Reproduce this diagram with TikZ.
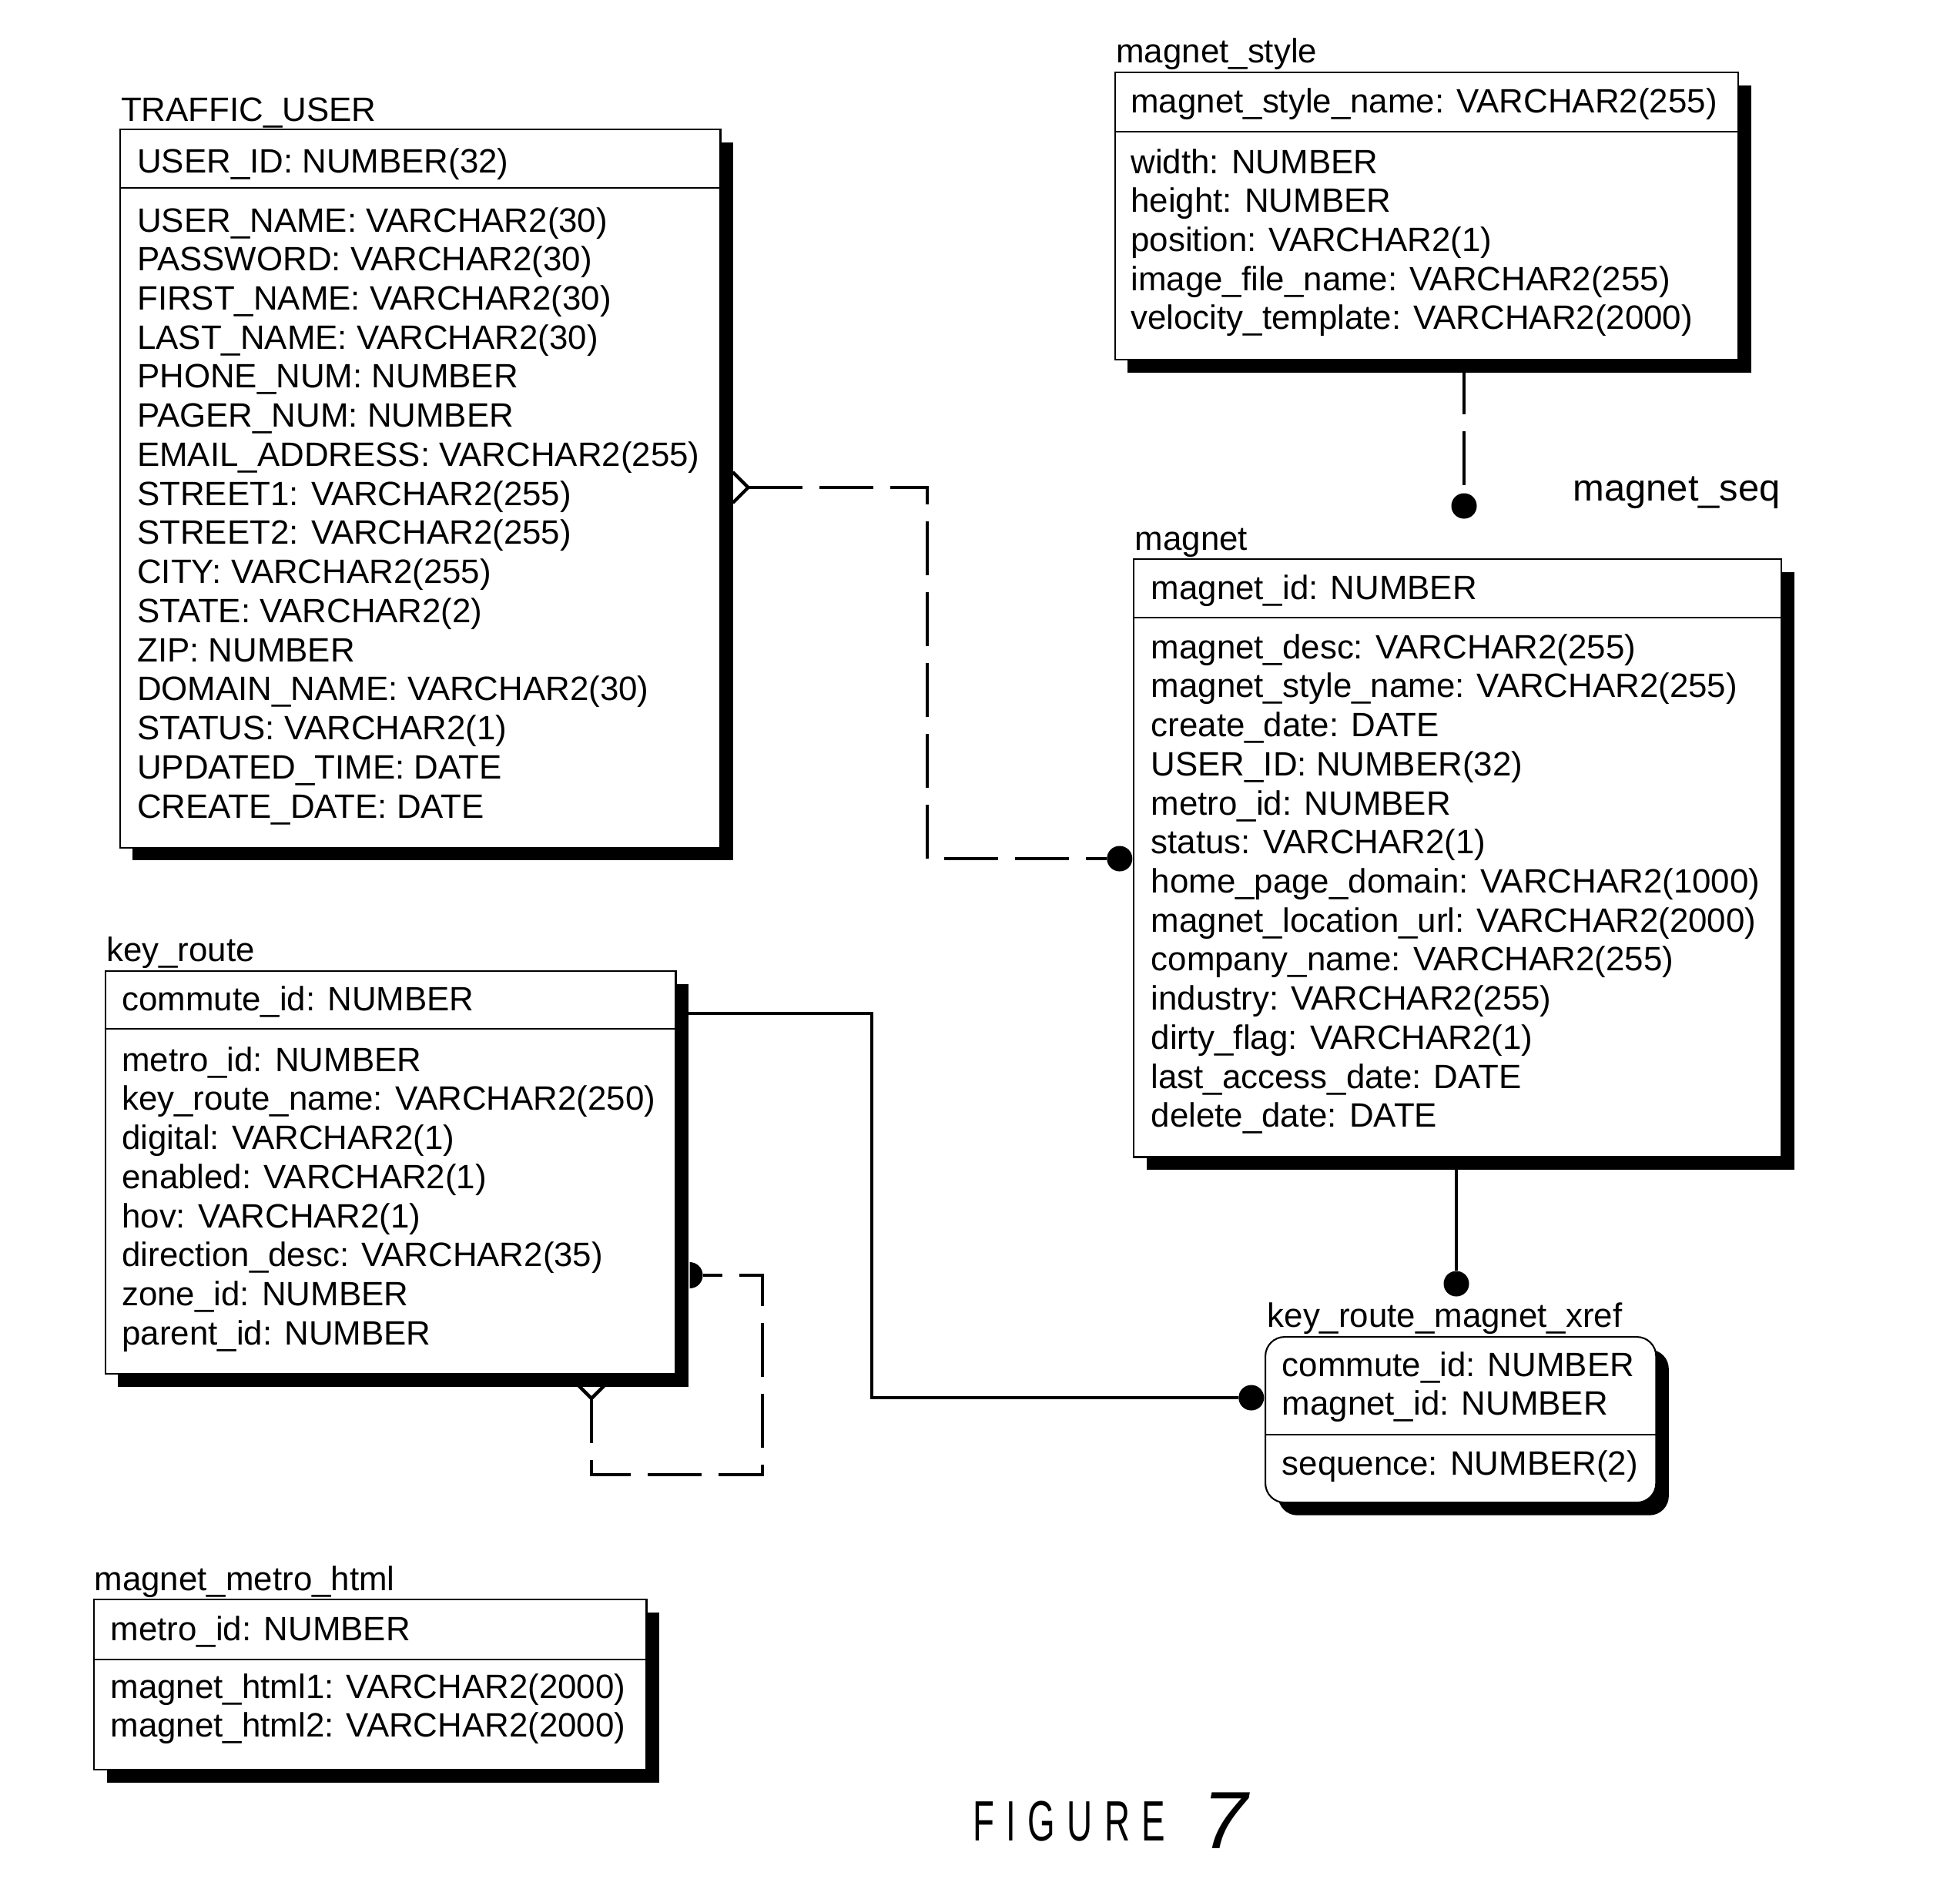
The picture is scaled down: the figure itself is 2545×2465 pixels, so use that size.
\documentclass[tikz,border=0pt]{standalone}
\usepackage{fontspec}
\usepackage{graphicx}
\setmainfont{Liberation Sans}
\usetikzlibrary{positioning,shadows}
\newcommand{\tabfont}{\fontsize{12.47}{14.43}\selectfont}
\newcommand{\rows}[1]{\parbox[t]{9cm}{\raggedright #1}}

\begin{document}
\begin{tikzpicture}[x=0.01cm, y=-0.01cm,
  entity/.style = {draw, fill=white, line width=0.6pt, inner sep=0, anchor=north west,
    drop shadow={shadow xshift=0.165cm, shadow yshift=-0.165cm, fill=black, opacity=1}},
  title/.style = {anchor=base west, inner sep=0, font=\tabfont},
  field/.style = {anchor=base west, inner sep=0, font=\tabfont},
  sep/.style = {line width=0.6pt},
  rel/.style = {line width=1.25pt},
  relD/.style = {rel, dash pattern=on 0.7cm off 0.22cm},
  dot/.style = {circle, fill, inner sep=0, minimum size=0.33cm}]

\useasboundingbox (0,0) rectangle (2545,2465);

% TRAFFIC_USER
\node[entity, minimum width=7.795cm, minimum height=9.32cm] (user) at (154.5,167) {};
\node[title] (userT) at ([shift={(2,-10)}]user.north west) {TRAFFIC\_USER};
\node[field] (userK) at ([shift={(23,57)}]user.north west) {USER\_ID: NUMBER(32)};
\draw[sep] ([yshift=-0.77cm]user.north west) -- ([yshift=-0.77cm]user.north east);
\node[field] (userA) at ([shift={(23,134)}]user.north west) {\rows{USER\_NAME: VARCHAR2(30)\\
  PASSWORD: VARCHAR2(30)\\ FIRST\_NAME: VARCHAR2(30)\\ LAST\_NAME: VARCHAR2(30)\\
  PHONE\_NUM: NUMBER\\ PAGER\_NUM: NUMBER\\ EMAIL\_ADDRESS: VARCHAR2(255)\\
  STREET1: VARCHAR2(255)\\ STREET2: VARCHAR2(255)\\ CITY: VARCHAR2(255)\\
  STATE: VARCHAR2(2)\\ ZIP: NUMBER\\ DOMAIN\_NAME: VARCHAR2(30)\\
  STATUS: VARCHAR2(1)\\ UPDATED\_TIME: DATE\\ CREATE\_DATE: DATE}};

% magnet_style
\node[entity, minimum width=8.09cm, minimum height=3.73cm] (style) at (1446.7,93) {};
\node[title] (styleT) at ([shift={(2,-12)}]style.north west) {magnet\_style};
\node[field] (styleK) at ([shift={(21,53)}]style.north west) {magnet\_style\_name: VARCHAR2(255)};
\draw[sep] ([yshift=-0.78cm]style.north west) -- ([yshift=-0.78cm]style.north east);
\node[field] (styleA) at ([shift={(21,132)}]style.north west) {\rows{width: NUMBER\\
  height: NUMBER\\ position: VARCHAR2(1)\\ image\_file\_name: VARCHAR2(255)\\
  velocity\_template: VARCHAR2(2000)}};

% magnet
\node[entity, minimum width=8.406cm, minimum height=7.76cm] (magnet) at (1471,725) {};
\node[title] (magnetT) at ([shift={(2,-11)}]magnet.north west) {magnet};
\node[field] (magnetK) at ([shift={(23,53)}]magnet.north west) {magnet\_id: NUMBER};
\draw[sep] ([yshift=-0.77cm]magnet.north west) -- ([yshift=-0.77cm]magnet.north east);
\node[field] (magnetA) at ([shift={(23,130)}]magnet.north west) {\rows{magnet\_desc: VARCHAR2(255)\\
  magnet\_style\_name: VARCHAR2(255)\\ create\_date: DATE\\ USER\_ID: NUMBER(32)\\
  metro\_id: NUMBER\\ status: VARCHAR2(1)\\ home\_page\_domain: VARCHAR2(1000)\\
  magnet\_location\_url: VARCHAR2(2000)\\ company\_name: VARCHAR2(255)\\
  industry: VARCHAR2(255)\\ dirty\_flag: VARCHAR2(1)\\ last\_access\_date: DATE\\
  delete\_date: DATE}};

% key_route
\node[entity, minimum width=7.404cm, minimum height=5.23cm] (keyroute) at (135.6,1260) {};
\node[title] (keyrouteT) at ([shift={(2,-12)}]keyroute.north west) {key\_route};
\node[field] (keyrouteK) at ([shift={(22,52)}]keyroute.north west) {commute\_id: NUMBER};
\draw[sep] ([yshift=-0.76cm]keyroute.north west) -- ([yshift=-0.76cm]keyroute.north east);
\node[field] (keyrouteA) at ([shift={(22,131)}]keyroute.north west) {\rows{metro\_id: NUMBER\\
  key\_route\_name: VARCHAR2(250)\\ digital: VARCHAR2(1)\\ enabled: VARCHAR2(1)\\
  hov: VARCHAR2(1)\\ direction\_desc: VARCHAR2(35)\\ zone\_id: NUMBER\\
  parent\_id: NUMBER}};

% key_route_magnet_xref
\node[entity, rounded corners=0.25cm, minimum width=5.07cm, minimum height=2.15cm] (xref) at (1642,1735) {};
\node[title] (xrefT) at ([shift={(3,-12)}]xref.north west) {key\_route\_magnet\_xref};
\node[field] (xrefK) at ([shift={(22,52)}]xref.north west) {\rows{commute\_id: NUMBER\\ magnet\_id: NUMBER}};
\draw[sep] ([yshift=-1.28cm]xref.north west) -- ([yshift=-1.28cm]xref.north east);
\node[field] (xrefA) at ([shift={(22,180)}]xref.north west) {sequence: NUMBER(2)};

% magnet_metro_html
\node[entity, minimum width=7.17cm, minimum height=2.21cm] (metro) at (121,2076) {};
\node[title] (metroT) at ([shift={(1,-11)}]metro.north west) {magnet\_metro\_html};
\node[field] (metroK) at ([shift={(22,54)}]metro.north west) {metro\_id: NUMBER};
\draw[sep] ([yshift=-0.79cm]metro.north west) -- ([yshift=-0.79cm]metro.north east);
\node[field] (metroA) at ([shift={(22,129)}]metro.north west) {\rows{magnet\_html1: VARCHAR2(2000)\\
  magnet\_html2: VARCHAR2(2000)}};

% TRAFFIC_USER to magnet
\node[dot, anchor=east] (d1) at (magnet.west |- 0,1115) {};
\coordinate[xshift=0.35cm] (uf) at (user.east |- 0,633);
\draw[rel] ([shift={(-20,-20)}]uf) -- (uf) -- ([shift={(-20,20)}]uf);
\draw[relD] (uf) -- (uf -| 1204,0) |- (d1);

% magnet_style to magnet
\node[dot] (d2) at (1901,657) {};
\node[title, font=\fontsize{13.9}{16}\selectfont] (seqL) at (2042,650) {magnet\_seq};
\draw[relD] (d2 |- style.south) -- (d2);

% magnet to key_route_magnet_xref
\node[dot] (d3) at (1891,1667) {};
\draw[rel] (d3 |- magnet.south) -- (d3);

% key_route to key_route_magnet_xref
\node[dot, anchor=east] (d4) at (xref.west |- 0,1815) {};
\draw[rel] (keyroute.east |- 0,1316) -- (1132,1316) |- (d4);

% key_route to itself
\coordinate[xshift=0.17cm] (k1) at (keyroute.east |- 0,1656);
\coordinate (ky) at (768,1816);
\fill ([yshift=0.17cm]k1) arc[start angle=90, end angle=-90, radius=0.17cm] -- cycle;
\draw[relD, dash phase=0.45cm] ([xshift=0.17cm]k1) -| (990,1915) -| (ky);
\draw[rel] ([shift={(-24,-24)}]ky) -- (ky) -- ([shift={(24,-24)}]ky);

\node[anchor=base west, inner sep=0, font=\fontsize{21}{24}\selectfont] (fig) at (1263,2390)
  {\scalebox{0.62}[1]{F\hspace{7pt}I\hspace{7pt}G\hspace{7pt}U\hspace{7pt}R\hspace{7pt}E} \hspace{8pt}\raisebox{-0.1cm}{\fontsize{30}{30}\selectfont\itshape 7}};
\end{tikzpicture}
\end{document}
